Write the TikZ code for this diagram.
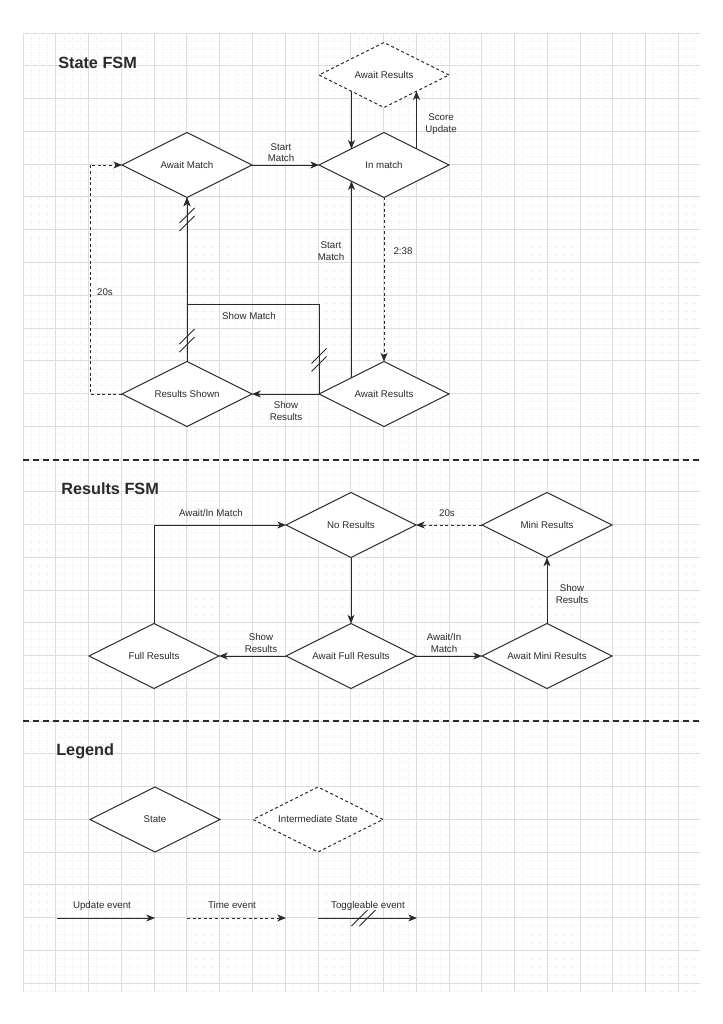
\documentclass[tikz,border=0pt]{standalone}
\usepackage{fontspec}
\setmainfont{Liberation Sans}
\usetikzlibrary{shapes.geometric,arrows.meta}
\definecolor{ink}{HTML}{2A2A2A}
\definecolor{gmaj}{HTML}{DDDDDD}
\definecolor{gmin}{HTML}{F0F0F0}
\newcommand\dgfs{\fontsize{7.3}{8.7}\selectfont}
\tikzset{
  state/.style={diamond, draw=ink, line width=0.75pt, fill=white, aspect=2,
    minimum width=97.5pt, minimum height=48.75pt, inner sep=0pt, outer sep=0pt,
    font=\dgfs, text=ink},
  istate/.style={state, dash pattern=on 2.2pt off 2pt},
  edge/.style={draw=ink, line width=0.75pt, -{Stealth[length=6.5pt,width=5.2pt,inset=1.8pt]}},
  tedge/.style={edge, dash pattern=on 2.2pt off 2pt},
  lbl/.style={font=\dgfs, text=ink, align=center, inner sep=0pt},
  title/.style={font=\fontsize{12.2}{14}\selectfont\bfseries, text=ink, anchor=west, inner sep=0pt},
  sepline/.style={draw=ink, line width=1.1pt, dash pattern=on 4.5pt off 3pt},
  gridmaj/.style={draw=gmaj, line width=0.5pt},
  gridmin/.style={draw=gmin, line width=0.4pt, dash pattern=on 1pt off 1pt},
  togv/.pic={\draw[ink, line width=0.75pt] (-7.5,3.5) -- (7.5,-11.5) (-7.5,11.5) -- (7.5,-3.5);},
  togh/.pic={\draw[ink, line width=0.75pt] (-12,8) -- (4,-8) (-4,8) -- (12,-8);}
}
\begin{document}
\begin{tikzpicture}[x=0.75pt,y=-0.75pt]
\fill[white] (0,0) rectangle (722,1024);
\useasboundingbox (0,0) rectangle (722,1024);
% grid
\foreach \i in {0,...,82} \draw[gridmin] ({23+8.19*\i},33) -- ({23+8.19*\i},992);
\foreach \j in {0,...,117} \draw[gridmin] (23,{33+8.19*\j}) -- (700,{33+8.19*\j});
\foreach \i in {0,...,20} \draw[gridmaj] ({23+32.76*\i},33) -- ({23+32.76*\i},992);
\foreach \j in {0,...,29} \draw[gridmaj] (23,{33+32.76*\j}) -- (700,{33+32.76*\j});
% separators
\draw[sepline] (23,460) -- (700,460);
\draw[sepline] (23,721) -- (700,721);
% titles
\node[title] (t1) at (58,63) {State FSM};
\node[title] (t2) at (61,489) {Results FSM};
\node[title] (t3) at (56,751) {Legend};
% ---- State FSM
\node[istate] (art) at (384,75) {Await Results};
\node[state] (im) at (384,165) {In match};
\node[state] (am) at (187,165) {Await Match};
\node[state] (rs) at (187,394) {Results Shown};
\node[state] (arb) at (384,394) {Await Results};
\draw[edge] (am.east) -- (im.west);
\draw[edge] (art.south west) -- (im.north west);
\draw[edge] (im.north east) -- (art.south east);
\draw[tedge] (im.south) -- (arb.north);
\draw[edge] (arb.north west) -- (im.south west);
\draw[edge] (arb.west) -- (rs.east);
\draw[edge] (rs.north) -- (am.south);
\draw[edge] (arb.west) -- ++(0,-90) -| (am.south);
\draw[tedge] (rs.west) -- ++(-32,0) |- (am.west);
\pic at (187,219.5) {togv};
\pic at (187,340.5) {togv};
\pic at (319,360) {togv};
\node[lbl] (l1) at (281,152.5) {Start\\Match};
\node[lbl] (l2) at (441,124) {Score\\Update};
\node[lbl] (l3) at (403,251) {2:38};
\node[lbl] (l4) at (331,251) {Start\\Match};
\node[lbl] (l5) at (286,411) {Show\\Results};
\node[lbl] (l6) at (249,316) {Show Match};
\node[lbl] (l7) at (105,292) {20s};
% ---- Results FSM
\node[state] (nr) at (351,525) {No Results};
\node[state] (mr) at (547,525) {Mini Results};
\node[state] (fr) at (154,656) {Full Results};
\node[state] (afr) at (351,656) {Await Full Results};
\node[state] (amr) at (547,656) {Await Mini Results};
\draw[edge] (fr.north) |- (nr.west);
\draw[tedge] (mr.west) -- (nr.east);
\draw[edge] (nr.south) -- (afr.north);
\draw[edge] (afr.west) -- (fr.east);
\draw[edge] (afr.east) -- (amr.west);
\draw[edge] (amr.north) -- (mr.south);
\node[lbl] (r1) at (211,513) {Await/In Match};
\node[lbl] (r2) at (447,513) {20s};
\node[lbl] (r3) at (261,643) {Show\\Results};
\node[lbl] (r4) at (444,643) {Await/In\\Match};
\node[lbl] (r5) at (572,594) {Show\\Results};
% ---- Legend
\node[state] (lst) at (155,819.5) {State};
\node[istate] (lis) at (318,819.5) {Intermediate State};
\coordinate (u1) at (57,918);
\coordinate (u2) at (155,918);
\coordinate (v1) at (187,918);
\coordinate (v2) at (286,918);
\coordinate (w1) at (318,918);
\coordinate (w2) at (417,918);
\draw[edge] (u1) -- (u2);
\draw[tedge] (v1) -- (v2);
\draw[edge] (w1) -- (w2);
\pic at (363.5,918) {togh};
\node[lbl, anchor=base] (g1) at (102,908.5) {Update event};
\node[lbl, anchor=base] (g2) at (232,908.5) {Time event};
\node[lbl, anchor=base] (g3) at (368,908.5) {Toggleable event};
\end{tikzpicture}
\end{document}
